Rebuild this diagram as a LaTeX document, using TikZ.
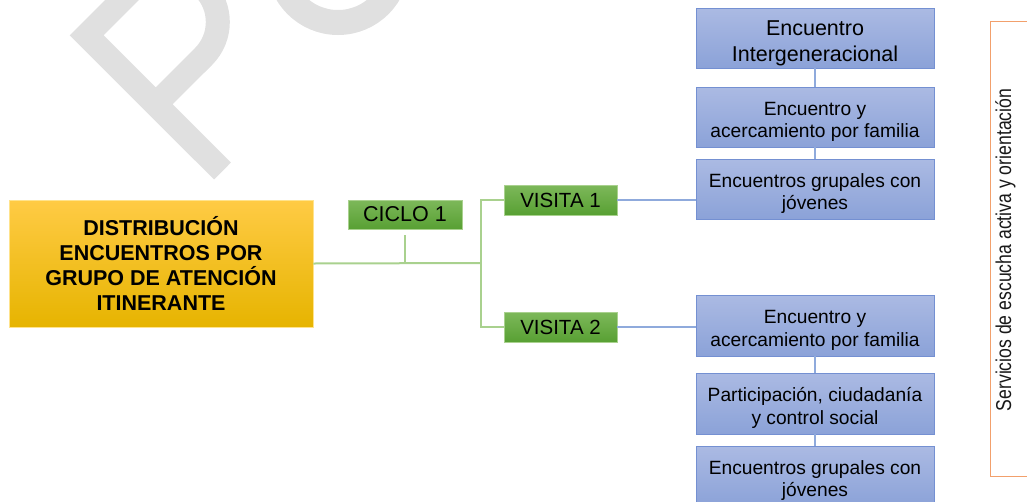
\documentclass[tikz,border=0pt]{standalone}
\usepackage{fontspec}
\setmainfont{Liberation Sans}
\definecolor{wmgray}{HTML}{E0E0E0}
\definecolor{bluetop}{HTML}{ABBAE3}
\definecolor{bluebot}{HTML}{8BA2D8}
\definecolor{blueline}{HTML}{7490D2}
\definecolor{bluecon}{HTML}{8FAADC}
\definecolor{greentop}{HTML}{7DB85A}
\definecolor{greenbot}{HTML}{58A033}
\definecolor{greenline}{HTML}{A9D18E}
\definecolor{orgtop}{HTML}{FFCB45}
\definecolor{orgmid}{HTML}{FFC000}
\definecolor{orgbot}{HTML}{E6B400}
\definecolor{orgline}{HTML}{FFE38C}
\definecolor{bracket}{HTML}{F2A06C}
\begin{document}
\begin{tikzpicture}[x=1pt,y=-1pt,
  wm/.style={draw=wmgray, line width=24pt, line join=miter, line cap=butt},
  bluebox/.style={draw=blueline, line width=0.9pt, top color=bluetop, bottom color=bluebot,
    minimum width=238pt, minimum height=60pt, inner sep=0pt, align=center,
    text height=45pt, text depth=4pt,
    font=\fontsize{19.2}{22.5}\selectfont, text=black},
  greenbox/.style={draw=greenline, line width=0.8pt, top color=greentop, bottom color=greenbot,
    minimum width=113pt, minimum height=30pt, inner sep=0pt, align=center,
    font=\fontsize{20.5}{24}\selectfont, text=black},
  orgbox/.style={draw=orgline, line width=0.8pt, top color=orgtop, middle color=orgmid, bottom color=orgbot,
    minimum width=304pt, minimum height=127pt, inner sep=0pt, align=center,
    font=\fontsize{21.5}{25}\selectfont\bfseries, text=black},
  gcon/.style={draw=greenline, line width=2pt},
  bcon/.style={draw=bluecon, line width=1.6pt},
  brk/.style={draw=bracket, line width=1.5pt}
]
\useasboundingbox (0,0) rectangle (1027,501);
\clip (0,0) rectangle (1027,501);

% watermark letters
\draw[wm] (222.5,171) -- (86.65,35.35) -- (134.5,-12.5)
  arc[start angle=225, end angle=405, radius=48.8] -- (155.65,104.35);
\draw[wm, line width=25pt] (338,-36.5) circle[radius=59];

% main nodes
\node[orgbox] (org) at (161,263.5) {DISTRIBUCIÓN\\ENCUENTROS POR\\GRUPO DE ATENCIÓN\\ITINERANTE};
\node[greenbox, minimum width=114pt, minimum height=29pt, font=\fontsize{21.5}{24}\selectfont] (c1) at (405,214.5) {CICLO 1};
\node[greenbox] (v1) at (560.5,200) {VISITA 1};
\node[greenbox] (v2) at (560.5,327) {VISITA 2};

\node[bluebox, text height=51.5pt, text depth=4.5pt, font=\fontsize{21.5}{26}\selectfont] (b1) at (815,38) {Encuentro\\Intergeneracional};
\node[bluebox] (b2) at (815,117) {Encuentro y\\acercamiento por familia};
\node[bluebox] (b3) at (815,189) {Encuentros grupales con\\jóvenes};
\node[bluebox, minimum height=61pt] (b4) at (815,325.5) {Encuentro y\\acercamiento por familia};
\node[bluebox, minimum height=61pt] (b5) at (815,403.5) {Participación, ciudadanía\\y control social};
\node[bluebox] (b6) at (815,476) {Encuentros grupales con\\jóvenes};

% green connectors
\coordinate (hub) at (481,263);
\draw[gcon] (org.east) -- (hub);
\draw[gcon] ([yshift=-6pt]c1.south) -- (c1.south |- hub);
\draw[gcon] (v1.west) -| (hub) |- (v2.west);

% blue connectors
\draw[bcon] (v1.east) -- (v1.east -| b3.west);
\draw[bcon] (v2.east) -- (v2.east -| b4.west);
\draw[bcon] (b1.south) -- (b2.north);
\draw[bcon] (b2.south) -- (b3.north);
\draw[bcon] (b4.south) -- (b5.north);
\draw[bcon] (b5.south) -- (b6.north);

% side bracket with vertical text
\draw[brk] (1100,21.7) -- (990.7,21.7) -- (990.7,476.7) -- (1100,476.7);
\node[rotate=90, anchor=base, inner sep=0pt, text=black!90, font=\fontsize{21.5}{24}\selectfont] (serv) at (1011,250)
  {\scalebox{0.82}[1]{Servicios de escucha activa y orientación}};
\end{tikzpicture}
\end{document}
